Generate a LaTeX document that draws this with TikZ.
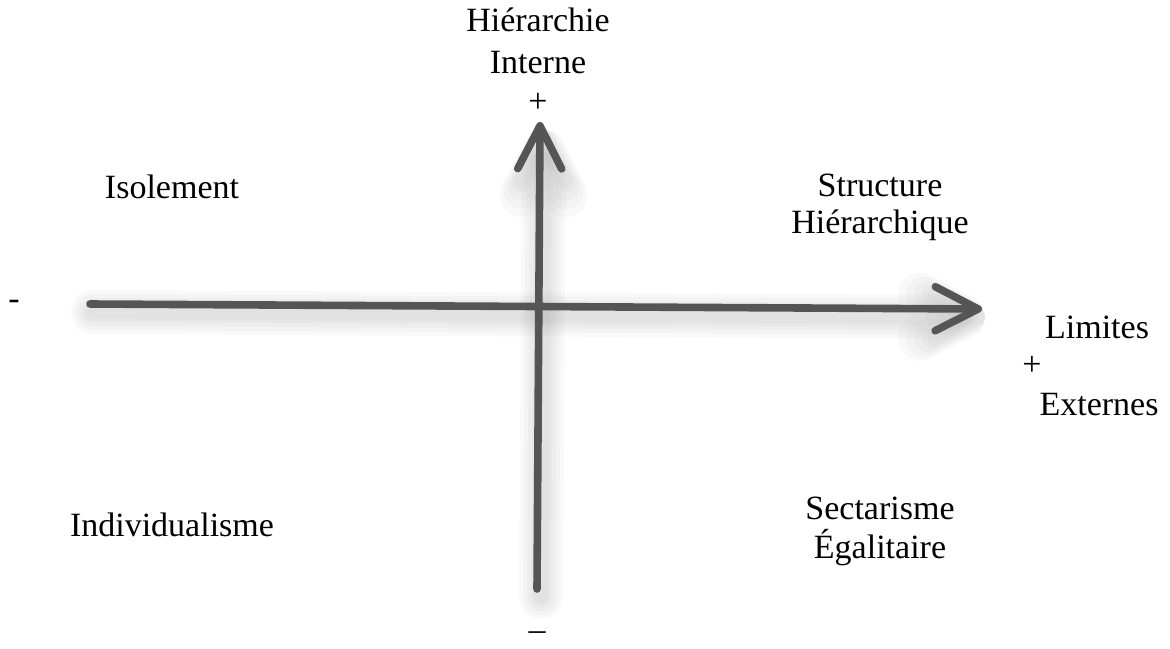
\documentclass[tikz,border=0pt]{standalone}
\usepackage{fontspec}
\setmainfont{Liberation Serif}
\usetikzlibrary{arrows.meta}
\definecolor{axisgray}{HTML}{555555}
\tikzset{
  lbl/.style={font=\fontsize{17}{21.5}\selectfont, align=center, inner sep=0pt, text=black},
  axis/.style={draw=axisgray, line width=3.8pt, line cap=round,
    -{Straight Barb[length=21.5pt,width=22pt,round]}},
  axisshadow/.style={draw=black, line cap=round, opacity=0.022,
    -{Straight Barb[length=21.5pt,width=22pt,round]}},
}
\begin{document}
\begin{tikzpicture}[x=0.5pt,y=-0.5pt]
\useasboundingbox (0,0) rectangle (1170,648);
% axis end points
\coordinate (hL) at (90,304);
\coordinate (hR) at (982,309);
\coordinate (vB) at (537,589);
\coordinate (vT) at (540,122);
\coordinate (hLs) at (93,312);
\coordinate (hRs) at (985,317);
\coordinate (vBs) at (541,597);
\coordinate (vTs) at (544,130);
% soft shadow
\foreach \w in {22pt,18pt,14pt,10pt,7pt}{
  \draw[axisshadow, line width=\w] (hLs) -- (hRs);
  \draw[axisshadow, line width=\w] (vBs) -- (vTs);
}
% axes
\draw[axis] (hL) -- (hR);
\draw[axis] (vB) -- (vT);
% labels
\node[lbl] (hier) at (538,20) {Hiérarchie};
\node[lbl] (int) at (538,63) {Interne};
\node[lbl] (plusT) at (538,103) {+};
\node[lbl] (iso) at (172,187) {Isolement};
\node[lbl] (struct) at (880,185) {Structure};
\node[lbl] (hierq) at (880,225) {Hiérarchique};
\node[lbl] (minusL) at (14,305) {-};
\node[lbl] (lim) at (1097,327) {Limites};
\node[lbl] (plusR) at (1032,366) {+};
\node[lbl] (ext) at (1099,405) {Externes};
\node[lbl] (indiv) at (172,525) {Individualisme};
\node[lbl] (sect) at (880,508) {Sectarisme};
\node[lbl] (egal) at (880,548) {Égalitaire};
\node[lbl] (minusB) at (537,636) {–};
\end{tikzpicture}
\end{document}
